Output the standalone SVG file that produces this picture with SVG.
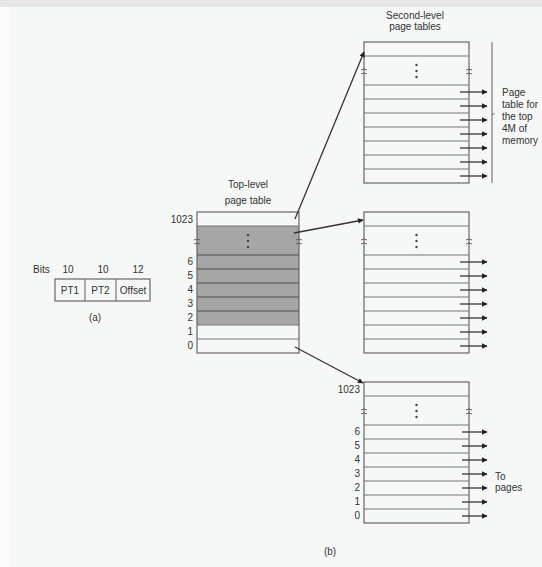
<svg xmlns="http://www.w3.org/2000/svg" width="542" height="567" viewBox="0 0 542 567">
<defs>
<style>
text{font-family:"Liberation Sans",Arial,sans-serif;font-size:10px;fill:#333}
.r{text-anchor:end}
.m{text-anchor:middle}
.box{fill:none;stroke:#666;stroke-width:1.2}
.row{stroke:#777;stroke-width:1.2}
.gray{fill:#a6a6a6}
.grow{stroke:#6a6a6a;stroke-width:1.4}
.arr{stroke:#333;stroke-width:1.3;fill:none;marker-end:url(#ah)}
.brk{stroke:#555;stroke-width:0.9;fill:none}
.dot{fill:#444}
</style>
<marker id="ah" viewBox="0 0 10 10" refX="9" refY="5" markerWidth="8" markerHeight="5.5" markerUnits="userSpaceOnUse" orient="auto"><path d="M0,0 L10,5 L0,10 z" fill="#222"/></marker>
</defs>
<rect width="542" height="567" fill="#fcfcfc"/>
<rect x="10" y="7" width="532" height="560" fill="#f5f8f6"/>
<rect width="542" height="7" fill="#e6e6e6"/>

<g id="addr">
<text x="33" y="273">Bits</text>
<text class="m" x="68" y="273">10</text>
<text class="m" x="103" y="273">10</text>
<text class="m" x="138" y="273">12</text>
<rect class="box" x="55" y="279" width="95" height="22"/>
<line class="row" x1="85" y1="279" x2="85" y2="301"/>
<line class="row" x1="116" y1="279" x2="116" y2="301"/>
<text class="m" x="70" y="294">PT1</text>
<text class="m" x="100.5" y="294">PT2</text>
<text class="m" x="133" y="294">Offset</text>
<text class="m" x="95" y="321">(a)</text>
</g>

<g id="top-level">
<text class="m" x="248" y="188">Top-level</text>
<text class="m" x="248" y="204">page table</text>
<rect class="gray" x="197" y="226" width="102" height="99"/>
<line class="grow" x1="197" y1="255" x2="299" y2="255"/>
<line class="grow" x1="197" y1="269" x2="299" y2="269"/>
<line class="grow" x1="197" y1="283" x2="299" y2="283"/>
<line class="grow" x1="197" y1="297" x2="299" y2="297"/>
<line class="grow" x1="197" y1="311" x2="299" y2="311"/>
<line class="row" x1="197" y1="226" x2="299" y2="226"/>
<line class="row" x1="197" y1="325" x2="299" y2="325"/>
<line class="row" x1="197" y1="339" x2="299" y2="339"/>
<rect class="box" x="197" y="212" width="102" height="141"/>
<circle class="dot" cx="248" cy="235" r="1.2"/><circle class="dot" cx="248" cy="241" r="1.2"/><circle class="dot" cx="248" cy="247" r="1.2"/>
<path class="brk" d="M194,240 q3,-2 6,0 M194,244 q3,-2 6,0 M296,240 q3,-2 6,0 M296,244 q3,-2 6,0"/>
<text class="r" x="193" y="223">1023</text>
<text class="r" x="193" y="265">6</text>
<text class="r" x="193" y="279">5</text>
<text class="r" x="193" y="293">4</text>
<text class="r" x="193" y="307">3</text>
<text class="r" x="193" y="321">2</text>
<text class="r" x="193" y="335">1</text>
<text class="r" x="193" y="349">0</text>
</g>

<g id="second-level-top">
<text class="m" x="415" y="19">Second-level</text>
<text class="m" x="415" y="30">page tables</text>
<rect class="box" x="364" y="42" width="105" height="141"/>
<line class="row" x1="364" y1="56" x2="469" y2="56"/>
<line class="row" x1="364" y1="85" x2="469" y2="85"/>
<line class="row" x1="364" y1="99" x2="469" y2="99"/>
<line class="row" x1="364" y1="113" x2="469" y2="113"/>
<line class="row" x1="364" y1="127" x2="469" y2="127"/>
<line class="row" x1="364" y1="141" x2="469" y2="141"/>
<line class="row" x1="364" y1="155" x2="469" y2="155"/>
<line class="row" x1="364" y1="169" x2="469" y2="169"/>
<circle class="dot" cx="416.5" cy="65" r="1.2"/><circle class="dot" cx="416.5" cy="71" r="1.2"/><circle class="dot" cx="416.5" cy="77" r="1.2"/>
<path class="brk" d="M361,70 q3,-2 6,0 M361,74 q3,-2 6,0 M466,70 q3,-2 6,0 M466,74 q3,-2 6,0"/>
<line x1="492" y1="42" x2="492" y2="183" stroke="#777" stroke-width="1.2"/>
<line x1="492" y1="114" x2="494.5" y2="114" stroke="#777" stroke-width="1.2"/>
<text x="502" y="96">Page</text>
<text x="502" y="108">table for</text>
<text x="502" y="120">the top</text>
<text x="502" y="132">4M of</text>
<text x="502" y="144">memory</text>
</g>

<g id="second-level-mid">
<rect class="box" x="364" y="212" width="105" height="141"/>
<line class="row" x1="364" y1="226" x2="469" y2="226"/>
<line class="row" x1="364" y1="255" x2="469" y2="255"/>
<line class="row" x1="364" y1="269" x2="469" y2="269"/>
<line class="row" x1="364" y1="283" x2="469" y2="283"/>
<line class="row" x1="364" y1="297" x2="469" y2="297"/>
<line class="row" x1="364" y1="311" x2="469" y2="311"/>
<line class="row" x1="364" y1="325" x2="469" y2="325"/>
<line class="row" x1="364" y1="339" x2="469" y2="339"/>
<circle class="dot" cx="416.5" cy="235" r="1.2"/><circle class="dot" cx="416.5" cy="241" r="1.2"/><circle class="dot" cx="416.5" cy="247" r="1.2"/>
<path class="brk" d="M361,240 q3,-2 6,0 M361,244 q3,-2 6,0 M466,240 q3,-2 6,0 M466,244 q3,-2 6,0"/>
</g>

<g id="second-level-bottom">
<rect class="box" x="364" y="382" width="105" height="141"/>
<line class="row" x1="364" y1="396" x2="469" y2="396"/>
<line class="row" x1="364" y1="425" x2="469" y2="425"/>
<line class="row" x1="364" y1="439" x2="469" y2="439"/>
<line class="row" x1="364" y1="453" x2="469" y2="453"/>
<line class="row" x1="364" y1="467" x2="469" y2="467"/>
<line class="row" x1="364" y1="481" x2="469" y2="481"/>
<line class="row" x1="364" y1="495" x2="469" y2="495"/>
<line class="row" x1="364" y1="509" x2="469" y2="509"/>
<circle class="dot" cx="416.5" cy="405" r="1.2"/><circle class="dot" cx="416.5" cy="411" r="1.2"/><circle class="dot" cx="416.5" cy="417" r="1.2"/>
<path class="brk" d="M361,410 q3,-2 6,0 M361,414 q3,-2 6,0 M466,410 q3,-2 6,0 M466,414 q3,-2 6,0"/>
<text class="r" x="360" y="393">1023</text>
<text class="r" x="360" y="435">6</text>
<text class="r" x="360" y="449">5</text>
<text class="r" x="360" y="463">4</text>
<text class="r" x="360" y="477">3</text>
<text class="r" x="360" y="491">2</text>
<text class="r" x="360" y="505">1</text>
<text class="r" x="360" y="519">0</text>
<text x="495" y="480">To</text>
<text x="495" y="491">pages</text>
</g>

<text class="m" x="330" y="555">(b)</text>

<g id="connectors">
<line class="arr" x1="295" y1="219" x2="364" y2="52"/>
<line class="arr" x1="294" y1="233" x2="363" y2="220"/>
<line class="arr" x1="295" y1="347" x2="363" y2="383"/>
<line class="arr" x1="460" y1="92" x2="487" y2="92"/>
<line class="arr" x1="460" y1="106" x2="487" y2="106"/>
<line class="arr" x1="460" y1="120" x2="487" y2="120"/>
<line class="arr" x1="460" y1="134" x2="487" y2="134"/>
<line class="arr" x1="460" y1="148" x2="487" y2="148"/>
<line class="arr" x1="460" y1="162" x2="487" y2="162"/>
<line class="arr" x1="460" y1="176" x2="487" y2="176"/>
<line class="arr" x1="460" y1="262" x2="487" y2="262"/>
<line class="arr" x1="460" y1="276" x2="487" y2="276"/>
<line class="arr" x1="460" y1="290" x2="487" y2="290"/>
<line class="arr" x1="460" y1="304" x2="487" y2="304"/>
<line class="arr" x1="460" y1="318" x2="487" y2="318"/>
<line class="arr" x1="460" y1="332" x2="487" y2="332"/>
<line class="arr" x1="460" y1="346" x2="487" y2="346"/>
<line class="arr" x1="462" y1="432" x2="487" y2="432"/>
<line class="arr" x1="462" y1="446" x2="487" y2="446"/>
<line class="arr" x1="462" y1="460" x2="487" y2="460"/>
<line class="arr" x1="462" y1="474" x2="487" y2="474"/>
<line class="arr" x1="462" y1="488" x2="487" y2="488"/>
<line class="arr" x1="462" y1="502" x2="487" y2="502"/>
<line class="arr" x1="462" y1="516" x2="487" y2="516"/>
</g>
</svg>
